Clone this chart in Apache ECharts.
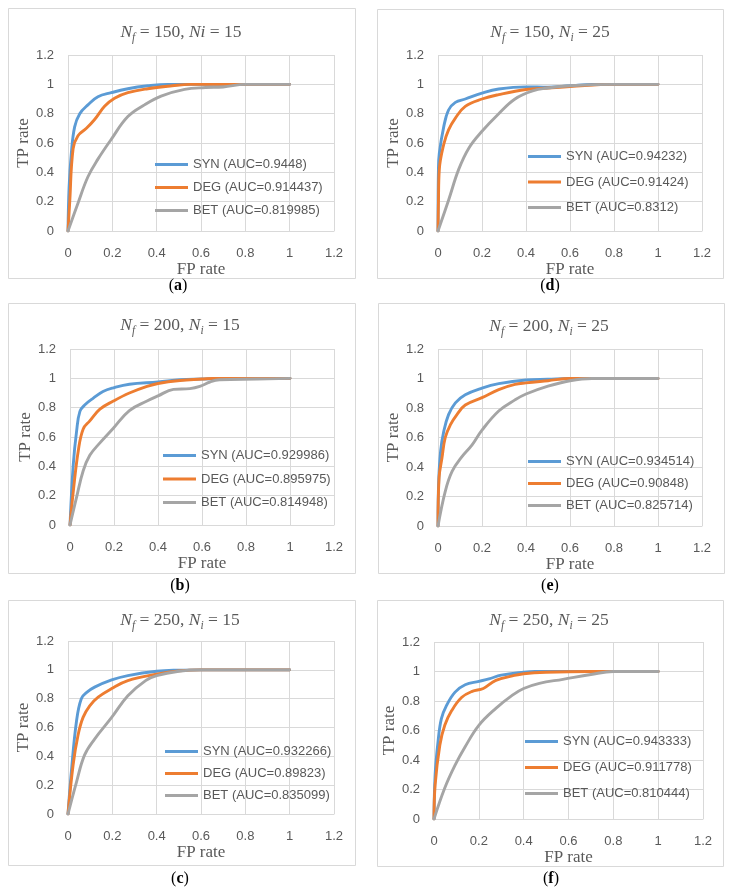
<!DOCTYPE html>
<html><head><meta charset="utf-8">
<script src="https://cdn.jsdelivr.net/npm/echarts@6/dist/echarts.min.js"></script>
<style>html,body{margin:0;padding:0;background:#fff}#c{width:731px;height:893px}</style>
</head><body><div id="c"></div>
<script>
// ---- data: [FP rate, TP rate] points ----
const synA = [[0,0],[0.005,0.3],[0.015,0.53],[0.03,0.71],[0.053,0.8],[0.09,0.86],[0.135,0.915],[0.195,0.943],[0.27,0.97],[0.36,0.99],[0.45,1],[0.6,1],[0.8,1],[1,1]];
const degA = [[0,0],[0.0075,0.19],[0.023,0.56],[0.045,0.65],[0.083,0.7],[0.12,0.76],[0.165,0.85],[0.21,0.905],[0.27,0.943],[0.36,0.97],[0.47,0.99],[0.55,1],[0.8,1],[1,1]];
const betA = [[0,0],[0.045,0.19],[0.09,0.37],[0.135,0.49],[0.195,0.625],[0.27,0.78],[0.345,0.86],[0.42,0.92],[0.526,0.966],[0.62,0.978],[0.7,0.982],[0.8,1],[1,1]];

const synB = [[0,0],[0.015,0.415],[0.03,0.64],[0.045,0.775],[0.068,0.82],[0.106,0.865],[0.15,0.91],[0.197,0.935],[0.27,0.96],[0.4,0.975],[0.5,0.99],[0.6,0.995],[0.7,1],[1,1]];
const degB = [[0,0],[0.015,0.23],[0.038,0.51],[0.06,0.655],[0.09,0.71],[0.136,0.79],[0.197,0.845],[0.27,0.9],[0.35,0.945],[0.4,0.965],[0.5,0.985],[0.6,0.995],[0.65,1],[1,1]];
const betB = [[0,0],[0.03,0.19],[0.06,0.37],[0.09,0.475],[0.136,0.56],[0.197,0.66],[0.27,0.78],[0.35,0.845],[0.4,0.88],[0.47,0.925],[0.545,0.93],[0.59,0.945],[0.636,0.975],[0.68,0.99],[0.85,0.995],[1,1]];

const synC = [[0,0],[0.015,0.29],[0.038,0.64],[0.06,0.8],[0.086,0.845],[0.12,0.88],[0.197,0.93],[0.27,0.96],[0.4,0.99],[0.5,0.998],[0.6,1],[1,1]];
const degC = [[0,0],[0.023,0.34],[0.045,0.545],[0.068,0.67],[0.098,0.75],[0.136,0.81],[0.197,0.87],[0.27,0.925],[0.4,0.97],[0.5,0.993],[0.6,1],[1,1]];
const betC = [[0,0],[0.038,0.22],[0.075,0.41],[0.12,0.52],[0.197,0.67],[0.27,0.82],[0.35,0.925],[0.4,0.96],[0.5,0.99],[0.6,1],[1,1]];

const synD = [[0,0],[0.002,0.42],[0.006,0.53],[0.026,0.71],[0.048,0.825],[0.079,0.877],[0.124,0.9],[0.2,0.94],[0.276,0.968],[0.4,0.983],[0.5,0.98],[0.6,0.99],[0.7,1],[1,1]];
const degD = [[0,0],[0.002,0.19],[0.006,0.42],[0.026,0.59],[0.048,0.69],[0.079,0.77],[0.124,0.85],[0.2,0.9],[0.276,0.93],[0.4,0.965],[0.5,0.975],[0.6,0.985],[0.8,1],[1,1]];
const betD = [[0,0],[0.048,0.21],[0.094,0.42],[0.14,0.565],[0.2,0.68],[0.276,0.8],[0.35,0.9],[0.43,0.955],[0.5,0.975],[0.6,0.99],[0.8,1],[1,1]];

const synE = [[0,0],[0.003,0.3],[0.012,0.51],[0.026,0.64],[0.048,0.755],[0.079,0.835],[0.124,0.89],[0.2,0.935],[0.276,0.965],[0.4,0.99],[0.5,0.995],[0.6,1],[1,1]];
const degE = [[0,0],[0.005,0.33],[0.018,0.46],[0.033,0.6],[0.056,0.685],[0.086,0.755],[0.124,0.82],[0.2,0.87],[0.276,0.925],[0.35,0.96],[0.4,0.97],[0.5,0.985],[0.6,1],[1,1]];
const betE = [[0,0],[0.033,0.235],[0.064,0.37],[0.109,0.47],[0.155,0.55],[0.2,0.65],[0.276,0.78],[0.35,0.855],[0.4,0.895],[0.5,0.948],[0.6,0.985],[0.7,1],[1,1]];

const synF = [[0,0],[0.005,0.3],[0.018,0.525],[0.033,0.68],[0.056,0.77],[0.094,0.86],[0.139,0.91],[0.2,0.933],[0.245,0.95],[0.3,0.975],[0.4,0.995],[0.45,1],[1,1]];
const degF = [[0,0],[0.005,0.23],[0.026,0.5],[0.048,0.635],[0.079,0.735],[0.124,0.825],[0.17,0.865],[0.22,0.885],[0.276,0.94],[0.35,0.97],[0.4,0.985],[0.5,0.995],[0.7,1],[1,1]];
const betF = [[0,0],[0.048,0.21],[0.094,0.365],[0.139,0.49],[0.2,0.635],[0.276,0.75],[0.35,0.84],[0.4,0.885],[0.47,0.92],[0.575,0.947],[0.7,0.98],[0.8,1],[1,1]];

const panelIds = ['a','b','c','d','e','f'];
const nfValues = [150, 200, 250, 150, 200, 250];
const niValues = [15, 15, 15, 25, 25, 25];
const aucSYN = ['0.9448','0.929986','0.932266','0.94232','0.934514','0.943333'];
const aucDEG = ['0.914437','0.895975','0.89823','0.91424','0.90848','0.911778'];
const aucBET = ['0.819985','0.814948','0.835099','0.8312','0.825714','0.810444'];
const methods = ['SYN','DEG','BET'];
const xTicks = [0, 0.2, 0.4, 0.6, 0.8, 1, 1.2];
const yTicks = [0, 0.2, 0.4, 0.6, 0.8, 1, 1.2];
const seriesData = [[synA,degA,betA],[synB,degB,betB],[synC,degC,betC],[synD,degD,betD],[synE,degE,betE],[synF,degF,betF]];

// ---- layout (pixels) ----
const grids = [
  {l:68, t:55, w:266, h:176}, {l:70, t:349, w:264, h:176}, {l:68, t:641, w:266, h:173},
  {l:438, t:55, w:264, h:176}, {l:438, t:349, w:264, h:177}, {l:434, t:642, w:269, h:177}
];
const boxes = [[8,8,347,270],[8,303,347,270],[8,600,347,265],[377,9,346,269],[378,303,346,270],[377,600,346,266]];
const titlePos = [[181,32],[180,325],[180,620],[550,32],[549,326],[549,620]];
const labelPos = [[178,286],[180,586],[180,879],[550,286],[550,586],[551,879]];
const legendPos = [{l:155,t:158,g:10},{l:163,t:449,g:10.5},{l:165,t:745,g:9},{l:528,t:150,g:12.5},{l:528,t:455,g:9},{l:525,t:735,g:13}];
const colors = ['#5B9BD5','#ED7D31','#A5A5A5'];
const GRID = '#D9D9D9', TXT = '#595959';

const option = {
  backgroundColor: '#fff', animation: false,
  grid: [], xAxis: [], yAxis: [], series: [], legend: [], graphic: []
};
const serifFont = 'Liberation Serif';
const sansFont = 'Liberation Sans';
const titleRich = {
  i: {fontFamily: serifFont, fontStyle:'italic', fontSize:17.5, fill:TXT, lineHeight:24, verticalAlign:'middle'},
  s: {fontFamily: serifFont, fontStyle:'italic', fontSize:11.5, fill:TXT, lineHeight:11, verticalAlign:'bottom'},
  n: {fontFamily: serifFont, fontSize:17.5, fill:TXT, lineHeight:24, verticalAlign:'middle'}
};

panelIds.forEach((pid, k) => {
  const g = grids[k];
  option.grid.push({left:g.l, top:g.t, width:g.w, height:g.h, containLabel:false});
  option.xAxis.push({
    type:'value', gridIndex:k, min:0, max:1.2, interval:0.2,
    name:'FP rate', nameLocation:'middle', nameGap:30,
    nameTextStyle:{fontFamily:serifFont, fontSize:17, color:TXT},
    axisLine:{show:true, lineStyle:{color:GRID, width:1}},
    axisTick:{show:false},
    axisLabel:{margin:16, fontFamily:sansFont, fontSize:13, color:TXT,
      formatter: v => { const t = xTicks.find(x => Math.abs(x - v) < 1e-6); return String(t !== undefined ? t : v); }},
    splitLine:{show:true, lineStyle:{color:GRID, width:1}}
  });
  option.yAxis.push({
    type:'value', gridIndex:k, min:0, max:1.2, interval:0.2,
    name:'TP rate', nameLocation:'middle', nameGap:34,
    nameTextStyle:{fontFamily:serifFont, fontSize:17, color:TXT},
    axisLine:{show:false}, axisTick:{show:false},
    axisLabel:{margin:14, fontFamily:sansFont, fontSize:13, color:TXT,
      formatter: v => { const t = yTicks.find(x => Math.abs(x - v) < 1e-6); return String(t !== undefined ? t : v); }},
    splitLine:{show:true, lineStyle:{color:GRID, width:1}}
  });
  const aucs = [aucSYN[k], aucDEG[k], aucBET[k]];
  const names = methods.map((m, j) => m + ' (AUC=' + aucs[j] + ')');
  names.forEach((nm, j) => {
    option.series.push({
      type:'line', name:nm, xAxisIndex:k, yAxisIndex:k,
      data: seriesData[k][j], smooth:0.4,
      showSymbol:false, symbol:'none', color:colors[j],
      lineStyle:{color:colors[j], width:2.9, cap:'round', join:'round'},
      z: 2 + j
    });
  });
  const lp = legendPos[k];
  option.legend.push({
    data:names, orient:'vertical', left:lp.l, top:lp.t, itemGap:lp.g, padding:0,
    icon:'rect', itemWidth:33, itemHeight:3, selectedMode:false,
    textStyle:{fontFamily:sansFont, fontSize:13, color:TXT}
  });
  const b = boxes[k];
  option.graphic.push({type:'rect', shape:{x:b[0]+0.5, y:b[1]+0.5, width:b[2], height:b[3]},
    style:{fill:'none', stroke:GRID, lineWidth:1}, z:-1, silent:true});
  const sub2 = (k === 0) ? '{i|i}' : '{s|i}';
  const ttl = '{i|N}{s|f}{n| = ' + nfValues[k] + ', }{i|N}' + sub2 + '{n| = ' + niValues[k] + '}';
  option.graphic.push({type:'text', x:titlePos[k][0], y:titlePos[k][1], silent:true,
    style:{text:ttl, rich:titleRich, fill:TXT, align:'center', verticalAlign:'middle'}});
  option.graphic.push({type:'text', x:labelPos[k][0], y:labelPos[k][1], silent:true,
    style:{text:'{p|(}{b|' + pid + '}{p|)}', align:'center', verticalAlign:'middle',
      rich:{p:{fontFamily:serifFont, fontSize:16, fill:'#000'}, b:{fontFamily:serifFont, fontSize:16, fontWeight:'bold', fill:'#000'}}}});
});

const chart = echarts.init(document.getElementById('c'), null, {renderer:'canvas'});
chart.setOption(option);
</script>
</body></html>
